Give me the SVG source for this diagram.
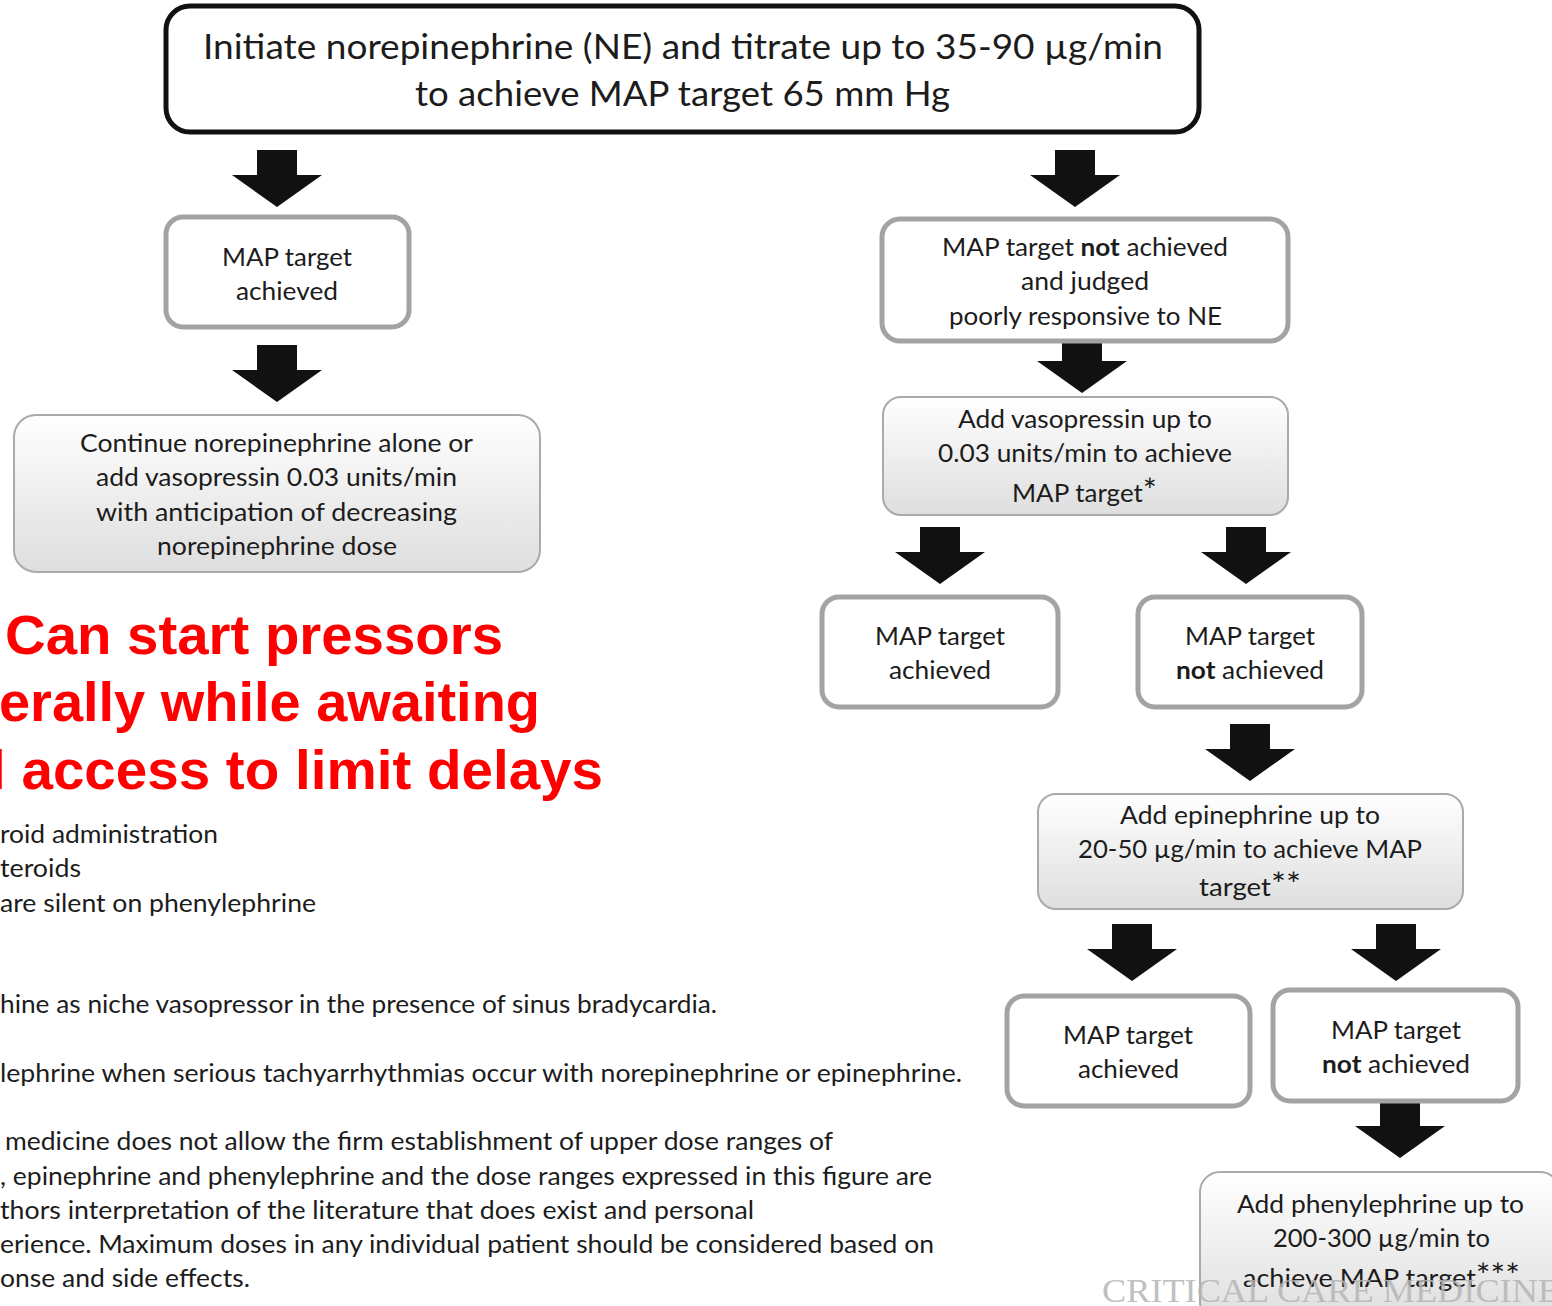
<svg xmlns="http://www.w3.org/2000/svg" width="1552" height="1306" viewBox="0 0 1552 1306">
<defs>
<linearGradient id="g" x1="0" y1="0" x2="0" y2="1">
<stop offset="0" stop-color="#ffffff"/>
<stop offset="1" stop-color="#dedede"/>
</linearGradient>
<path id="arr" d="M-20,0 h40 v25 h25 L0,57 L-45,25 h25 z" fill="#111"/>
<style>
.t{font-family:Lato,"Open Sans","Liberation Sans",sans-serif;fill:#1c1c1c;}
.bx{font-size:25px;}
.w{fill:#fff;stroke:#a3a3a3;stroke-width:5;}
.gr{fill:url(#g);stroke:#aaaaaa;stroke-width:2;}
.red{font-family:"Liberation Sans",Arial,sans-serif;font-weight:bold;font-size:55px;fill:#ff0000;}
.fn{font-size:25px;}
.b{font-weight:bold;}
.ast{font-size:32px;}
</style>
</defs>
<rect width="1552" height="1306" fill="#fff"/>

<g id="connectors">
<use href="#arr" x="277" y="150"/>
<use href="#arr" x="1075" y="150"/>
<use href="#arr" x="277" y="345"/>
<use href="#arr" x="1082" y="336"/>
<use href="#arr" x="940" y="527"/>
<use href="#arr" x="1246" y="527"/>
<use href="#arr" x="1250" y="724"/>
<use href="#arr" x="1132" y="924"/>
<use href="#arr" x="1396" y="924"/>
<use href="#arr" x="1400" y="1101"/>
</g>

<g id="start">
<rect x="166" y="6" width="1033" height="126" rx="24" fill="#fff" stroke="#111" stroke-width="5"/>
<text class="t" font-size="35" x="203" y="59" textLength="960" lengthAdjust="spacingAndGlyphs">Initiate norepinephrine (NE) and titrate up to 35-90 µg/min</text>
<text class="t" font-size="35" x="415" y="106" textLength="535" lengthAdjust="spacingAndGlyphs">to achieve MAP target 65 mm Hg</text>
</g>

<g id="left-achieved">
<rect class="w" x="166" y="217" width="243" height="110" rx="17"/>
<text class="t bx" x="222" y="266" textLength="130" lengthAdjust="spacingAndGlyphs">MAP target</text>
<text class="t bx" x="236" y="300" textLength="102" lengthAdjust="spacingAndGlyphs">achieved</text>
</g>

<g id="continue">
<rect class="gr" x="14" y="415" width="526" height="157" rx="22"/>
<text class="t bx" x="80" y="452" textLength="393" lengthAdjust="spacingAndGlyphs">Continue norepinephrine alone or</text>
<text class="t bx" x="96" y="486" textLength="361" lengthAdjust="spacingAndGlyphs">add vasopressin 0.03 units/min</text>
<text class="t bx" x="96" y="521" textLength="361" lengthAdjust="spacingAndGlyphs">with  anticipation of decreasing</text>
<text class="t bx" x="157" y="555" textLength="240" lengthAdjust="spacingAndGlyphs">norepinephrine dose</text>
</g>

<g id="not-achieved-ne">
<rect class="w" x="882" y="219" width="406" height="122" rx="18"/>
<text class="t bx" x="942" y="256" textLength="286" lengthAdjust="spacingAndGlyphs">MAP target <tspan class="b">not</tspan> achieved</text>
<text class="t bx" x="1021" y="290" textLength="128" lengthAdjust="spacingAndGlyphs">and judged</text>
<text class="t bx" x="949" y="325" textLength="273" lengthAdjust="spacingAndGlyphs">poorly responsive to NE</text>
</g>

<g id="add-vasopressin">
<rect class="gr" x="883" y="397" width="405" height="118" rx="18"/>
<text class="t bx" x="958" y="428" textLength="254" lengthAdjust="spacingAndGlyphs">Add vasopressin up to</text>
<text class="t bx" x="938" y="462" textLength="294" lengthAdjust="spacingAndGlyphs">0.03 units/min to achieve</text>
<text class="t bx" x="1012" y="502" textLength="145" lengthAdjust="spacingAndGlyphs">MAP target<tspan class="ast">*</tspan></text>
</g>

<g id="vaso-achieved">
<rect class="w" x="822" y="597" width="236" height="110" rx="17"/>
<text class="t bx" x="875" y="645" textLength="130" lengthAdjust="spacingAndGlyphs">MAP target</text>
<text class="t bx" x="889" y="679" textLength="102" lengthAdjust="spacingAndGlyphs">achieved</text>
</g>

<g id="vaso-not-achieved">
<rect class="w" x="1138" y="597" width="224" height="110" rx="17"/>
<text class="t bx" x="1185" y="645" textLength="130" lengthAdjust="spacingAndGlyphs">MAP target</text>
<text class="t bx" x="1176" y="679" textLength="148" lengthAdjust="spacingAndGlyphs"><tspan class="b">not</tspan> achieved</text>
</g>

<g id="add-epinephrine">
<rect class="gr" x="1038" y="794" width="425" height="115" rx="18"/>
<text class="t bx" x="1120" y="824" textLength="260" lengthAdjust="spacingAndGlyphs">Add epinephrine up to</text>
<text class="t bx" x="1078" y="858" textLength="344" lengthAdjust="spacingAndGlyphs">20-50 µg/min to achieve MAP</text>
<text class="t bx" x="1199" y="896" textLength="102" lengthAdjust="spacingAndGlyphs">target<tspan class="ast">**</tspan></text>
</g>

<g id="epi-achieved">
<rect class="w" x="1007" y="996" width="243" height="110" rx="17"/>
<text class="t bx" x="1063" y="1044" textLength="130" lengthAdjust="spacingAndGlyphs">MAP target</text>
<text class="t bx" x="1078" y="1078" textLength="101" lengthAdjust="spacingAndGlyphs">achieved</text>
</g>

<g id="epi-not-achieved">
<rect class="w" x="1273" y="990" width="245" height="111" rx="17"/>
<text class="t bx" x="1331" y="1039" textLength="130" lengthAdjust="spacingAndGlyphs">MAP target</text>
<text class="t bx" x="1322" y="1073" textLength="148" lengthAdjust="spacingAndGlyphs"><tspan class="b">not</tspan> achieved</text>
</g>

<g id="add-phenylephrine">
<rect class="gr" x="1200" y="1172" width="360" height="150" rx="20"/>
<text class="t bx" x="1237" y="1213" textLength="287" lengthAdjust="spacingAndGlyphs">Add phenylephrine up to</text>
<text class="t bx" x="1273" y="1247" textLength="217" lengthAdjust="spacingAndGlyphs">200-300 µg/min to</text>
<text class="t bx" x="1243" y="1287" textLength="277" lengthAdjust="spacingAndGlyphs">achieve MAP target<tspan class="ast">***</tspan></text>
</g>

<g id="red-note">
<text class="red" x="5" y="654" textLength="498" lengthAdjust="spacingAndGlyphs">Can start pressors</text>
<text class="red" x="-1" y="721" textLength="541" lengthAdjust="spacingAndGlyphs">erally while awaiting</text>
<text class="red" x="-10" y="789" textLength="613" lengthAdjust="spacingAndGlyphs">l access to limit delays</text>
</g>

<g id="footnotes">
<text class="t fn" x="0" y="843" textLength="218" lengthAdjust="spacingAndGlyphs">roid administration</text>
<text class="t fn" x="0" y="877" textLength="81" lengthAdjust="spacingAndGlyphs">teroids</text>
<text class="t fn" x="0" y="912" textLength="316" lengthAdjust="spacingAndGlyphs">are silent on phenylephrine</text>
<text class="t fn" x="0" y="1013" textLength="717" lengthAdjust="spacingAndGlyphs">hine as niche vasopressor in the presence of sinus bradycardia.</text>
<text class="t fn" x="0" y="1082" textLength="962" lengthAdjust="spacingAndGlyphs">lephrine when serious tachyarrhythmias occur with norepinephrine or epinephrine.</text>
<text class="t fn" x="5" y="1150" textLength="828" lengthAdjust="spacingAndGlyphs">medicine does not allow the firm establishment of upper dose ranges of</text>
<text class="t fn" x="0" y="1185" textLength="932" lengthAdjust="spacingAndGlyphs">, epinephrine and phenylephrine and the dose ranges expressed in this figure are</text>
<text class="t fn" x="0" y="1219" textLength="754" lengthAdjust="spacingAndGlyphs">thors interpretation of the literature that does exist and personal</text>
<text class="t fn" x="0" y="1253" textLength="934" lengthAdjust="spacingAndGlyphs">erience. Maximum doses in any individual patient should be considered based on</text>
<text class="t fn" x="0" y="1287" textLength="250" lengthAdjust="spacingAndGlyphs">onse and side effects.</text>
</g>

<g id="watermark">
<text x="1102" y="1302" font-family="'Liberation Serif',serif" font-size="33" fill="#b5b5b5" fill-opacity="0.85" textLength="458" lengthAdjust="spacingAndGlyphs">CRITICAL CARE MEDICINE</text>
</g>
</svg>
